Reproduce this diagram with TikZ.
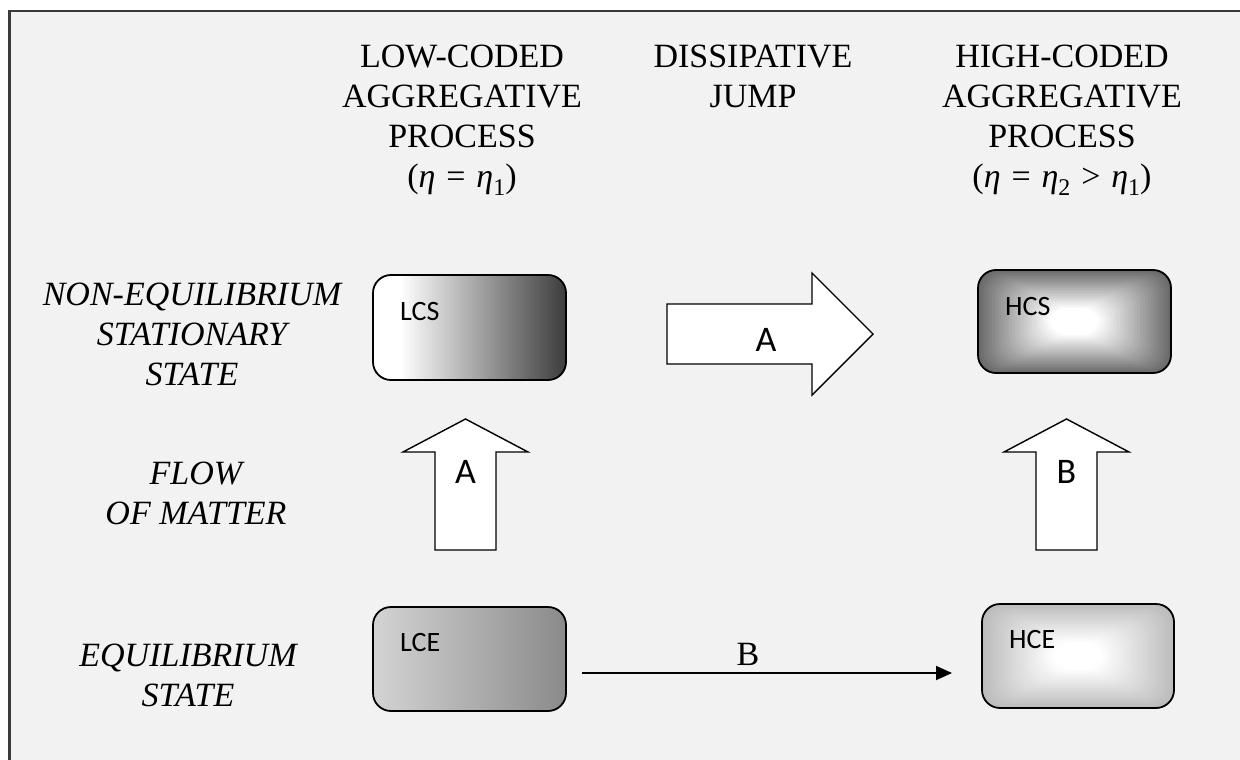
\documentclass[tikz,border=0pt]{standalone}
\usepackage{fix-cm}
\usepackage{fontspec}
\setmainfont{Liberation Serif}
\newfontfamily\calibri{Carlito}
\usetikzlibrary{arrows.meta,calc}
\definecolor{bg}{HTML}{F2F2F2}
\definecolor{framec}{HTML}{3A3A3A}
\definecolor{hcsout}{HTML}{6A6A6A}
\definecolor{hceout}{HTML}{BCBCBC}
\definecolor{lceleft}{HTML}{D4D4D4}
\definecolor{lceright}{HTML}{8A8A8A}
\definecolor{lcsright}{HTML}{3C3C3C}
\newcommand\myeta{\textit{η}}
\newcommand\mysub[1]{\raisebox{-0.22em}{\fontsize{24}{24}\selectfont #1}}
\newcommand\myrel[1]{\hspace{0.32em}#1\hspace{0.32em}}
\pgfdeclarehorizontalshading{lcsgrad}{100bp}{color(0bp)=(white); color(25bp)=(white); color(32bp)=(white); color(75bp)=(lcsright); color(100bp)=(lcsright)}
\pgfdeclarehorizontalshading{lcegrad}{100bp}{color(0bp)=(lceleft); color(25bp)=(lceleft); color(75bp)=(lceright); color(100bp)=(lceright)}
\tikzset{
  hdr/.style={align=center, inner sep=0pt, anchor=north, font=\fontsize{34}{40}\selectfont},
  side/.style={align=center, inner sep=0pt, anchor=north, font=\fontsize{34}{40}\selectfont\itshape},
  statebox/.style={draw=black, line width=1.8pt, rounded corners=18pt, minimum width=193pt, minimum height=104pt, inner sep=0pt, outer sep=0pt},
  boxlabel/.style={font=\calibri\fontsize{28}{32}\selectfont, anchor=base west, inner sep=0pt},
  blockarrow/.style={draw=black, fill=white, line width=1.4pt, line join=miter},
  arrowlabel/.style={font=\calibri\fontsize{36}{40}\selectfont, anchor=base, inner sep=0pt},
  rectgrad/.style={path picture={
    \foreach \ii in {0,...,27}{
      \pgfmathsetmacro\ff{\ii/34}
      \pgfmathtruncatemacro\pp{min(100,100*\ii/25)}
      \fill[white!\pp!#1] ($(path picture bounding box.north west)!\ff!(path picture bounding box.center)$) rectangle ($(path picture bounding box.south east)!\ff!(path picture bounding box.center)$);
    }}},
  linkarrow/.style={line width=1.8pt, -{Triangle[length=16pt,width=14pt]}}
}
\begin{document}
\begin{tikzpicture}[x=1pt,y=-1pt]
\useasboundingbox (0,0) rectangle (1240,760);
\clip (0,0) rectangle (1240,760);
\fill[white] (0,0) rectangle (1240,760);
\filldraw[fill=bg, draw=framec, line width=2.4pt] (9.5,10.8) rectangle (1260,780);

% column headers
\node[hdr] (h1) at (462,45) {LOW-CODED\\AGGREGATIVE\\PROCESS\\(\myeta\myrel{=}\myeta\mysub{1})};
\node[hdr] (h2) at (753,45) {DISSIPATIVE\\JUMP};
\node[hdr] (h3) at (1062,45) {HIGH-CODED\\AGGREGATIVE\\PROCESS\\(\myeta\myrel{=}\myeta\mysub{2}\myrel{>}\myeta\mysub{1})};

% row labels
\node[side] (s1) at (192,283) {NON-EQUILIBRIUM\\STATIONARY\\STATE};
\node[side] (s2) at (196,462) {FLOW\\OF MATTER};
\node[side] (s3) at (188,644) {EQUILIBRIUM\\STATE};

% state boxes
\node[statebox, minimum height=105pt, shade, shading=lcsgrad] (lcs) at (469.5,327.5) {};
\node[boxlabel] (lcst) at ($(lcs.north west)+(27,45)$) {LCS};
\node[statebox, shade, shading=lcegrad] (lce) at (469.5,659) {};
\node[boxlabel] (lcet) at ($(lce.north west)+(27,44)$) {LCE};
\node[statebox, minimum height=103pt, rectgrad=hcsout] (hcs) at (1074.5,321.5) {};
\node[boxlabel] (hcst) at ($(hcs.north west)+(27,45)$) {HCS};
\node[statebox, minimum width=192pt, rectgrad=hceout] (hce) at (1078,656) {};
\node[boxlabel] (hcet) at ($(hce.north west)+(27,44)$) {HCE};

% dissipative jump arrow A
\draw[blockarrow] (667,304) -- (812,304) -- (812,273) -- (873,334) -- (812,395) -- (812,364) -- (667,364) -- cycle;
\node[arrowlabel] (ja) at (766,351) {A};

% flow of matter arrows
\draw[blockarrow] (435,550) -- (435,452) -- (403,452) -- (465.5,419) -- (528,452) -- (496,452) -- (496,550) -- cycle;
\node[arrowlabel] (fa) at (465.5,483) {A};
\draw[blockarrow] (1036,550) -- (1036,452) -- (1004,452) -- (1066.5,419) -- (1129,452) -- (1097,452) -- (1097,550) -- cycle;
\node[arrowlabel] (fb) at (1066.5,483) {B};

% equilibrium link B
\coordinate (bfrom) at (582,673);
\coordinate (bto) at (952,673);
\draw[linkarrow] (bfrom) -- (bto);
\node[inner sep=0pt, anchor=base, font=\fontsize{34}{40}\selectfont] (bl) at (748,665) {B};
\end{tikzpicture}
\end{document}
